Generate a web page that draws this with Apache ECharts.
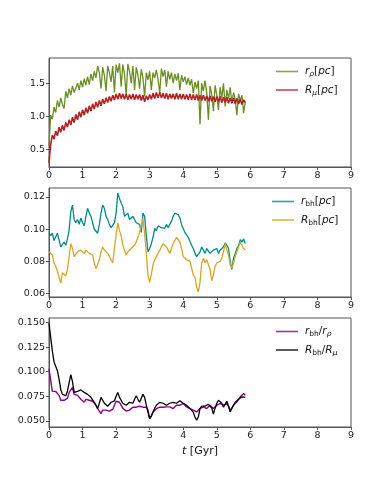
<!DOCTYPE html>
<html><head><meta charset="utf-8">
<script src="https://cdn.jsdelivr.net/npm/echarts@6/dist/echarts.min.js"></script>
<style>html,body{margin:0;padding:0;background:#fff}#c{width:390px;height:488px}</style>
</head><body><div id="c"></div>
<script>
// time axis (Gyr)
const t = [
0.00,0.05,0.10,0.15,0.20,0.25,0.30,0.35,0.40,0.45,
0.50,0.55,0.60,0.65,0.70,0.75,0.80,0.85,0.90,0.95,
1.00,1.05,1.10,1.15,1.20,1.25,1.30,1.35,1.40,1.45,
1.50,1.55,1.60,1.65,1.70,1.75,1.80,1.85,1.90,1.95,
2.00,2.05,2.10,2.15,2.20,2.25,2.30,2.35,2.40,2.45,
2.50,2.55,2.60,2.65,2.70,2.75,2.80,2.85,2.90,2.95,
3.00,3.05,3.10,3.15,3.20,3.25,3.30,3.35,3.40,3.45,
3.50,3.55,3.60,3.65,3.70,3.75,3.80,3.85,3.90,3.95,
4.00,4.05,4.10,4.15,4.20,4.25,4.30,4.35,4.40,4.45,
4.50,4.55,4.60,4.65,4.70,4.75,4.80,4.85,4.90,4.95,
5.00,5.05,5.10,5.15,5.20,5.25,5.30,5.35,5.40,5.45,
5.50,5.55,5.60,5.65,5.70,5.75,5.80,5.85];

const rRho = [
0.55,1.02,0.96,1.14,1.06,1.24,1.14,1.28,1.18,1.12,
1.38,1.28,1.42,1.32,1.46,1.36,1.38,1.50,1.40,1.54,
1.44,1.57,1.47,1.60,1.48,1.64,1.54,1.68,1.58,1.76,
1.66,1.42,1.74,1.62,1.38,1.76,1.66,1.52,1.76,1.36,
1.78,1.66,1.80,1.45,1.78,1.64,1.32,1.79,1.68,1.50,
1.76,1.40,1.74,1.62,1.42,1.71,1.58,1.30,1.66,1.55,
1.68,1.40,1.66,1.58,1.70,1.56,1.35,1.72,1.60,1.70,
1.45,1.68,1.56,1.66,1.50,1.64,1.54,1.65,1.40,1.62,
1.52,1.60,1.48,1.58,1.47,1.56,1.35,1.52,1.42,1.54,
0.88,1.50,1.38,1.54,1.36,0.95,1.46,1.33,1.08,1.47,
1.32,1.10,1.44,1.28,1.50,1.15,1.40,1.27,1.44,1.20,
1.36,1.26,1.02,1.34,1.24,1.32,1.05,1.22];

const rMu = [
0.30,0.58,0.72,0.66,0.78,0.71,0.84,0.76,0.87,0.79,
0.91,0.84,0.95,0.87,0.99,0.91,1.03,0.95,1.07,0.99,
1.10,1.02,1.13,1.05,1.16,1.08,1.19,1.11,1.22,1.14,
1.24,1.16,1.26,1.19,1.28,1.21,1.30,1.23,1.32,1.25,
1.34,1.26,1.35,1.27,1.34,1.26,1.34,1.25,1.33,1.26,
1.34,1.25,1.33,1.26,1.33,1.24,1.32,1.22,1.31,1.25,
1.33,1.26,1.35,1.27,1.36,1.28,1.36,1.28,1.35,1.27,
1.35,1.26,1.34,1.27,1.34,1.26,1.35,1.26,1.34,1.26,
1.34,1.26,1.33,1.25,1.34,1.25,1.33,1.25,1.33,1.24,
1.32,1.24,1.32,1.24,1.31,1.23,1.31,1.23,1.30,1.22,
1.30,1.22,1.30,1.21,1.29,1.21,1.29,1.20,1.28,1.20,
1.28,1.19,1.27,1.19,1.26,1.18,1.25,1.21];

const rBh = [
0.0975,0.096,0.0975,0.093,0.092,0.0975,0.0985,0.089,0.088,0.092,
0.090,0.094,0.0995,0.111,0.115,0.106,0.104,0.106,0.103,0.107,
0.104,0.102,0.108,0.113,0.110,0.108,0.104,0.100,0.101,0.0975,
0.103,0.110,0.115,0.113,0.108,0.106,0.103,0.101,0.100,0.104,
0.110,0.1225,0.119,0.118,0.114,0.108,0.107,0.110,0.106,0.105,
0.108,0.106,0.104,0.105,0.103,0.098,0.110,0.108,0.096,0.086,
0.088,0.091,0.095,0.1005,0.099,0.102,0.103,0.101,0.102,0.1005,
0.103,0.101,0.102,0.105,0.108,0.110,0.111,0.109,0.107,0.103,
0.1005,0.098,0.0965,0.095,0.0925,0.090,0.088,0.085,0.083,0.083,
0.086,0.089,0.087,0.085,0.088,0.087,0.085,0.084,0.087,0.086,
0.088,0.085,0.087,0.087,0.089,0.0915,0.090,0.088,0.080,0.075,
0.082,0.085,0.088,0.090,0.0935,0.092,0.094,0.091];

const RBh = [
0.086,0.085,0.084,0.079,0.077,0.074,0.070,0.0665,0.073,0.072,
0.071,0.075,0.083,0.091,0.088,0.083,0.084,0.086,0.085,0.087,
0.086,0.085,0.087,0.086,0.085,0.086,0.084,0.079,0.0755,0.078,
0.081,0.086,0.089,0.087,0.086,0.085,0.084,0.081,0.079,0.088,
0.0965,0.104,0.099,0.096,0.090,0.087,0.084,0.086,0.087,0.088,
0.088,0.090,0.092,0.095,0.098,0.102,0.1065,0.097,0.085,0.0715,
0.067,0.072,0.078,0.081,0.083,0.085,0.086,0.089,0.091,0.090,
0.089,0.087,0.085,0.088,0.091,0.093,0.095,0.094,0.092,0.088,
0.083,0.082,0.081,0.081,0.080,0.076,0.0715,0.070,0.064,0.061,
0.067,0.079,0.082,0.079,0.081,0.082,0.075,0.068,0.072,0.077,
0.079,0.078,0.080,0.082,0.086,0.091,0.087,0.084,0.078,0.076,
0.079,0.083,0.086,0.089,0.092,0.090,0.088,0.087];

const ratioRho = [
0.103,0.103,0.080,0.079,0.080,0.078,0.076,0.071,0.070,0.071,
0.072,0.073,0.079,0.081,0.084,0.077,0.076,0.076,0.074,0.072,
0.071,0.069,0.072,0.074,0.071,0.069,0.070,0.068,0.066,0.0625,
0.060,0.0575,0.061,0.0625,0.061,0.059,0.060,0.059,0.062,0.066,
0.070,0.072,0.069,0.066,0.063,0.061,0.060,0.059,0.061,0.0625,
0.064,0.066,0.064,0.0625,0.065,0.066,0.064,0.0625,0.064,0.061,
0.0524,0.055,0.059,0.061,0.0625,0.063,0.064,0.065,0.064,0.0643,
0.0643,0.064,0.0643,0.063,0.0626,0.064,0.066,0.065,0.066,0.067,
0.0677,0.066,0.0643,0.063,0.0626,0.061,0.0609,0.060,0.0592,0.061,
0.0626,0.064,0.0643,0.063,0.0626,0.064,0.066,0.064,0.0626,0.064,
0.066,0.067,0.0677,0.066,0.066,0.068,0.0677,0.065,0.0609,0.063,
0.066,0.068,0.0694,0.072,0.0745,0.076,0.0779,0.0762];

const ratioMu = [
0.149,0.147,0.121,0.110,0.108,0.101,0.0925,0.082,0.077,0.076,
0.0756,0.0805,0.089,0.097,0.090,0.079,0.081,0.080,0.082,0.0815,
0.080,0.079,0.080,0.077,0.076,0.074,0.072,0.069,0.066,0.0625,
0.068,0.074,0.071,0.068,0.066,0.065,0.067,0.069,0.071,0.0705,
0.075,0.079,0.074,0.071,0.068,0.067,0.066,0.068,0.069,0.067,
0.068,0.072,0.0757,0.072,0.069,0.073,0.077,0.074,0.066,0.059,
0.0523,0.055,0.059,0.063,0.066,0.068,0.069,0.0685,0.068,0.067,
0.066,0.067,0.068,0.070,0.069,0.067,0.068,0.070,0.0705,0.069,
0.068,0.067,0.066,0.064,0.0625,0.061,0.059,0.054,0.0507,0.054,
0.0625,0.065,0.066,0.065,0.064,0.067,0.068,0.063,0.057,0.063,
0.068,0.071,0.073,0.068,0.064,0.067,0.070,0.065,0.059,0.063,
0.066,0.069,0.070,0.072,0.073,0.0745,0.0757,0.074];

const xTicks = [0,1,2,3,4,5,6,7,8,9];
const yTicks1 = [0.5,1.0,1.5];
const yTicks2 = [0.06,0.08,0.10,0.12];
const yTicks3 = [0.050,0.075,0.100,0.125,0.150];

const pair = (ys) => t.map((x,i)=>[x, ys[i]]);
const FONT = 'DejaVu Sans';
const labelStyle = {color:'#222', fontSize:9.5, fontFamily:FONT};
const frame = '#555';

function xAx(gi, withName){
  const a = {type:'value', gridIndex:gi, min:0, max:9, interval:1,
    axisLine:{show:true, onZero:false, lineStyle:{color:frame, width:1}},
    axisTick:{show:true, length:3, lineStyle:{color:frame}},
    splitLine:{show:false},
    axisLabel:Object.assign({margin:4, formatter:v=>String(v)}, labelStyle)};
  if (withName){
    a.name='{i|t} [Gyr]'; a.nameLocation='middle'; a.nameGap=19;
    a.nameTextStyle={fontFamily:FONT, fontSize:11, color:'#111',
      rich:{i:{fontStyle:'italic', fontFamily:FONT, fontSize:11, color:'#111'}}};
  }
  return a;
}
function yAx(gi, min, max, ticks, dec){
  return {type:'value', gridIndex:gi, min:min, max:max,
    axisLine:{show:true, onZero:false, lineStyle:{color:frame, width:1}},
    axisTick:{show:true, length:3, customValues:ticks, lineStyle:{color:frame}},
    splitLine:{show:false},
    axisLabel:Object.assign({margin:4, customValues:ticks, formatter:v=>v.toFixed(dec)}, labelStyle)};
}
function ln(name, gi, ys, color, w){
  return {name:name, type:'line', xAxisIndex:gi, yAxisIndex:gi, data:pair(ys),
    symbol:'none', showSymbol:false, sampling:null, animation:false,
    lineStyle:{color:color, width:w}, itemStyle:{color:color}};
}
const rich = {
  i:{fontStyle:'italic', fontFamily:FONT, fontSize:10.5, color:'#111'},
  n:{fontFamily:FONT, fontSize:10.5, color:'#111'},
  s:{fontStyle:'italic', fontFamily:FONT, fontSize:7.5, color:'#111', padding:[6,0,0,0]},
  u:{fontFamily:FONT, fontSize:7.5, color:'#111', padding:[6,0,0,0]}
};
const legendText = {
  'r_rho':'{i|r}{s|ρ}{n|[}{i|pc}{n|]}',
  'R_mu':'{i|R}{s|μ}{n|[}{i|pc}{n|]}',
  'r_bh':'{i|r}{u|bh}{n|[}{i|pc}{n|]}',
  'R_bh':'{i|R}{u|bh}{n|[}{i|pc}{n|]}',
  'q_rho':'{i|r}{u|bh}{n|/}{i|r}{s|ρ}',
  'q_mu':'{i|R}{u|bh}{n|/}{i|R}{s|μ}'
};
function leg(names, left, top){
  return {data:names.map(n=>({name:n, icon:'rect'})), orient:'vertical', left:left, top:top,
    itemWidth:22, itemHeight:1.6, itemGap:6, padding:0,
    itemStyle:{opacity:0.8},
    textStyle:{rich:rich, padding:[0,0,0,2]}, formatter:n=>legendText[n],
    selectedMode:false};
}

const chart = echarts.init(document.getElementById('c'), null, {renderer:'canvas'});
chart.setOption({
  animation:false,
  backgroundColor:'#fff',
  grid:[
    {left:49, right:39, top:58, height:109, show:true, borderColor:frame, borderWidth:1},
    {left:49, right:39, top:188, height:109, show:true, borderColor:frame, borderWidth:1},
    {left:49, right:39, top:318, height:109, show:true, borderColor:frame, borderWidth:1}
  ],
  xAxis:[xAx(0,false), xAx(1,false), xAx(2,true)],
  yAxis:[yAx(0,0.24,1.88,yTicks1,1), yAx(1,0.0579,0.1256,yTicks2,2), yAx(2,0.0439,0.1545,yTicks3,3)],
  legend:[leg(['r_rho','R_mu'],276,66), leg(['r_bh','R_bh'],272,196), leg(['q_rho','q_mu'],276,326)],
  series:[
    ln('r_rho',0,rRho,'#6b8e23',1.3),
    ln('R_mu',0,rMu,'#b22222',1.6),
    ln('r_bh',1,rBh,'#008b8b',1.3),
    ln('R_bh',1,RBh,'#daa520',1.3),
    ln('q_rho',2,ratioRho,'#8b008b',1.4),
    ln('q_mu',2,ratioMu,'#000000',1.3)
  ]
});
</script></body></html>
